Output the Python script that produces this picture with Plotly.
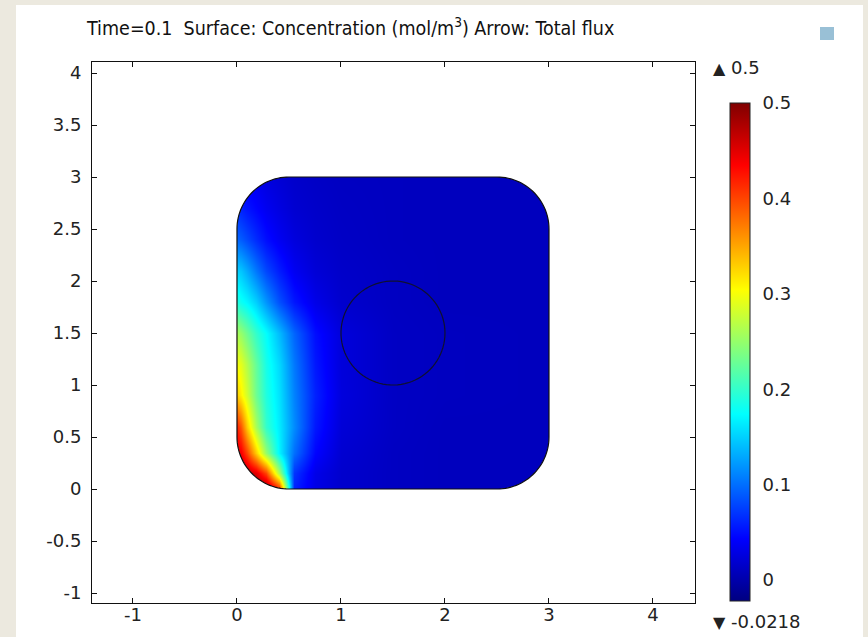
import numpy as np
import plotly.graph_objects as go

# ---------------- data ----------------
x_nodes = [0, 0.04, 0.1, 0.18, 0.28, 0.4, 0.55, 0.75, 1.0, 1.5, 2.0, 3.0]
y_nodes = [0, 0.15, 0.35, 0.6, 0.9, 1.2, 1.5, 1.8, 2.1, 2.4, 2.7, 3.0]

conc_y000 = [0.50, 0.50, 0.50, 0.50, 0.49, 0.42, 0.06, 0.03, 0.018, 0.012, 0.010, 0.010]
conc_y015 = [0.49, 0.48, 0.47, 0.45, 0.40, 0.26, 0.07, 0.032, 0.018, 0.012, 0.010, 0.010]
conc_y035 = [0.45, 0.44, 0.40, 0.33, 0.25, 0.17, 0.10, 0.045, 0.02, 0.012, 0.010, 0.010]
conc_y060 = [0.42, 0.39, 0.33, 0.26, 0.20, 0.165, 0.115, 0.055, 0.023, 0.013, 0.010, 0.010]
conc_y090 = [0.33, 0.31, 0.28, 0.23, 0.19, 0.16, 0.11, 0.06, 0.026, 0.013, 0.011, 0.010]
conc_y120 = [0.30, 0.29, 0.265, 0.225, 0.185, 0.155, 0.105, 0.055, 0.025, 0.013, 0.011, 0.010]
conc_y150 = [0.26, 0.25, 0.23, 0.20, 0.175, 0.14, 0.095, 0.05, 0.025, 0.013, 0.011, 0.010]
conc_y180 = [0.19, 0.18, 0.17, 0.15, 0.12, 0.085, 0.055, 0.032, 0.018, 0.012, 0.010, 0.010]
conc_y210 = [0.15, 0.145, 0.13, 0.105, 0.08, 0.058, 0.037, 0.023, 0.016, 0.012, 0.010, 0.010]
conc_y240 = [0.095, 0.09, 0.08, 0.065, 0.05, 0.037, 0.026, 0.018, 0.014, 0.011, 0.010, 0.010]
conc_y270 = [0.065, 0.06, 0.053, 0.045, 0.036, 0.028, 0.02, 0.016, 0.013, 0.011, 0.010, 0.010]
conc_y300 = [0.045, 0.042, 0.038, 0.033, 0.027, 0.022, 0.017, 0.014, 0.012, 0.011, 0.010, 0.010]

conc_min = -0.0218
conc_max = 0.5

x_tick_vals = [-1, 0, 1, 2, 3, 4]
x_tick_labels = ["-1", "0", "1", "2", "3", "4"]
y_tick_vals = [-1, -0.5, 0, 0.5, 1, 1.5, 2, 2.5, 3, 3.5, 4]
y_tick_labels = ["-1", "-0.5", "0", "0.5", "1", "1.5", "2", "2.5", "3", "3.5", "4"]
cb_tick_vals = [0, 0.1, 0.2, 0.3, 0.4, 0.5]
cb_tick_labels = ["0", "0.1", "0.2", "0.3", "0.4", "0.5"]
max_label = "0.5"
min_label = "-0.0218"

# geometry
square_lo, square_hi = 0.0, 3.0
corner_r = 0.5
circle_cx, circle_cy, circle_r = 1.5, 1.5, 0.5

title_text = "Time=0.1  Surface: Concentration (mol/m<sup>3</sup>) Arrow: Total flux"

# ------------------------------------------------------------
z = [conc_y000, conc_y015, conc_y035, conc_y060, conc_y090, conc_y120,
     conc_y150, conc_y180, conc_y210, conc_y240, conc_y270, conc_y300]

jet = [[0.0, "rgb(0,0,128)"], [0.125, "rgb(0,0,255)"], [0.375, "rgb(0,255,255)"],
       [0.625, "rgb(255,255,0)"], [0.875, "rgb(255,0,0)"], [1.0, "rgb(128,0,0)"]]

TICK_FONT = dict(family="DejaVu Sans, Verdana, sans-serif", size=18, color="#222222")

fig = go.Figure()
fig.add_trace(go.Contour(
    x=x_nodes, y=y_nodes, z=z,
    zmin=conc_min, zmax=conc_max, zauto=False,
    colorscale=jet,
    contours=dict(coloring="heatmap", showlines=False),
    line=dict(width=0),
    ncontours=60,
    colorbar=dict(
        x=1.058, xanchor="left", y=0.464, yanchor="middle",
        thickness=20, thicknessmode="pixels",
        len=498, lenmode="pixels",
        xpad=0, ypad=0,
        outlinewidth=1, outlinecolor="#222222",
        tickmode="array", tickvals=cb_tick_vals, ticktext=cb_tick_labels,
        ticks="outside", ticklen=9, tickcolor="rgba(0,0,0,0)",
        tickfont=TICK_FONT,
    ),
    hoverinfo="skip",
))


def arc(cx, cy, r, a0, a1, n=30):
    t = np.linspace(a0, a1, n)
    return cx + r * np.cos(t), cy + r * np.sin(t)


lo, hi, r = square_lo, square_hi, corner_r
e = 0.04
corners = [
    ((lo, lo), (lo + r, lo + r), np.pi, 1.5 * np.pi, -1, -1),
    ((hi, lo), (hi - r, lo + r), 1.5 * np.pi, 2 * np.pi, 1, -1),
    ((hi, hi), (hi - r, hi - r), 0, 0.5 * np.pi, 1, 1),
    ((lo, hi), (lo + r, hi - r), 0.5 * np.pi, np.pi, -1, 1),
]
shapes = []
# white panel over the beige frame
shapes.append(dict(type="rect", xref="paper", yref="paper",
                   x0=-0.126, x1=1.2786, y0=-0.08, y1=1.1054,
                   fillcolor="white", line=dict(width=0), layer="below"))
# faint application logo in the top-right corner
shapes.append(dict(type="rect", xref="paper", yref="paper",
                   x0=(820 - 92) / 603, x1=(834 - 92) / 603,
                   y0=(603 - 40) / 541, y1=(603 - 27) / 541,
                   fillcolor="rgba(70,140,180,0.55)", line=dict(width=0), layer="below"))
outline_pts = []
for (px, py), (cx, cy), a0, a1, sx, sy in corners:
    ax, ay = arc(cx, cy, r, a0, a1)
    pts = list(zip(ax, ay))
    end = pts[-1]
    start = pts[0]
    extra = []
    if abs(end[1] - py) < 1e-9:
        extra.append((end[0], py + sy * e))
    else:
        extra.append((px + sx * e, end[1]))
    extra.append((px + sx * e, py + sy * e))
    if abs(start[1] - py) < 1e-9:
        extra.append((start[0], py + sy * e))
    else:
        extra.append((px + sx * e, start[1]))
    poly = pts + extra
    d = "M " + " L ".join(f"{xx:.5f},{yy:.5f}" for xx, yy in poly) + " Z"
    shapes.append(dict(type="path", path=d, xref="x", yref="y",
                       fillcolor="white", line=dict(width=0), layer="above"))
    outline_pts += pts
d = "M " + " L ".join(f"{xx:.5f},{yy:.5f}" for xx, yy in outline_pts) + " Z"
shapes.append(dict(type="path", path=d, xref="x", yref="y",
                   line=dict(color="#111111", width=1.2), layer="above"))
cxs, cys = arc(circle_cx, circle_cy, circle_r, 0, 2 * np.pi, 90)
d = "M " + " L ".join(f"{xx:.5f},{yy:.5f}" for xx, yy in zip(cxs, cys)) + " Z"
shapes.append(dict(type="path", path=d, xref="x", yref="y",
                   line=dict(color="#101030", width=1.2), layer="above"))

axis_common = dict(showline=True, linecolor="#111111", linewidth=1, mirror="ticks",
                   ticks="inside", ticklen=5, tickcolor="#111111", tickwidth=1,
                   showgrid=False, zeroline=False, tickfont=TICK_FONT,
                   tickmode="array", automargin=False)

fig.update_layout(
    width=868, height=637,
    margin=dict(l=92, r=173, t=62, b=34, autoexpand=False),
    paper_bgcolor="#ECE9DF", plot_bgcolor="white",
    shapes=shapes,
    title=dict(text=title_text, x=87 / 868, xref="container", xanchor="left",
               y=1 - 28 / 637, yref="container", yanchor="middle",
               font=dict(family="DejaVu Sans Condensed, Liberation Sans Narrow, DejaVu Sans",
                         size=19.5, color="#111111")),
    xaxis=dict(range=[-1.394, 4.404], tickvals=x_tick_vals, ticktext=x_tick_labels,
               ticklabelstandoff=-5, **axis_common),
    yaxis=dict(range=[-1.096, 4.106], tickvals=y_tick_vals, ticktext=y_tick_labels,
               ticklabelstandoff=6, **axis_common),
    annotations=[
        dict(text=f"<span style='font-size:16px'>▲</span> {max_label}", xref="paper", yref="paper",
             x=(711 - 92) / 603, y=(603 - 67) / 541, xanchor="left", yanchor="middle",
             showarrow=False, font=TICK_FONT),
        dict(text=f"<span style='font-size:16px'>▼</span> {min_label}", xref="paper", yref="paper",
             x=(711 - 92) / 603, y=(603 - 621) / 541, xanchor="left", yanchor="middle",
             showarrow=False, font=TICK_FONT),
    ],
)

fig.write_html("out.html", config={"displayModeBar": False},
               post_script="document.body.style.margin='0px';document.body.style.background='#ECE9DF';")
